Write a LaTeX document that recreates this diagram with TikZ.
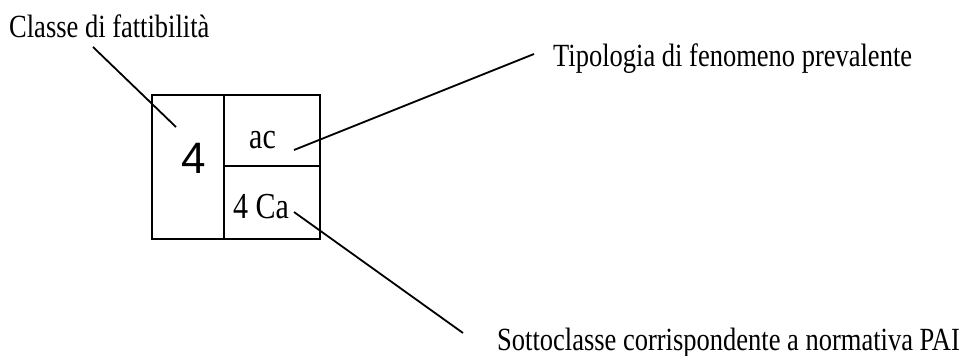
\documentclass[tikz,border=0pt]{standalone}
\usepackage{graphicx}
\usepackage{fontspec}
\setmainfont{Liberation Serif}
\newfontfamily\bigsans{Liberation Sans}
\newcommand{\stretchtxt}[1]{\scalebox{1}[1.22]{#1}}
\begin{document}
\begin{tikzpicture}[x=1pt,y=-1pt,
  cell/.style={draw=black,line width=2pt,minimum width=#1,inner sep=0pt},
  lbl/.style={anchor=base west,inner sep=0pt,font=\fontsize{26.5}{30}\selectfont},
  celltxt/.style={anchor=base west,inner sep=0pt,font=\fontsize{30}{32}\selectfont},
  leader/.style={draw=black,line width=1.8pt}]
\useasboundingbox (0,0) rectangle (967,356);
% cells
\node[cell=72pt,minimum height=144pt,anchor=north west] (L) at (151,94) {};
\node[cell=96pt,minimum height=71pt,anchor=north west] (TR) at (223,94) {};
\node[cell=96pt,minimum height=73pt,anchor=north west] (BR) at (223,165) {};
% cell texts
\node[anchor=base west,inner sep=0pt,font=\bigsans\fontsize{44}{48}\selectfont] (four) at (181.5,173) {4};
\node[celltxt] (ac) at (249,148) {\stretchtxt{ac}};
\node[celltxt] (ca) at (233,218) {\stretchtxt{4 Ca}};
% labels
\node[lbl] (classe) at (9,37) {\stretchtxt{Classe di fattibilità}};
\node[lbl] (tipo) at (553,66) {\stretchtxt{Tipologia di fenomeno prevalente}};
\node[lbl] (sotto) at (497,350) {\stretchtxt{Sottoclasse corrispondente a normativa PAI}};
% leader end points
\coordinate (c1a) at (93,47);
\coordinate (c1b) at (176,127);
\coordinate (c2a) at (294,150);
\coordinate (c2b) at (534,54);
\coordinate (c3a) at (294,212);
\coordinate (c3b) at (463,333);
\draw[leader] (c1a) -- (c1b);
\draw[leader] (c2a) -- (c2b);
\draw[leader] (c3a) -- (c3b);
\end{tikzpicture}
\end{document}
